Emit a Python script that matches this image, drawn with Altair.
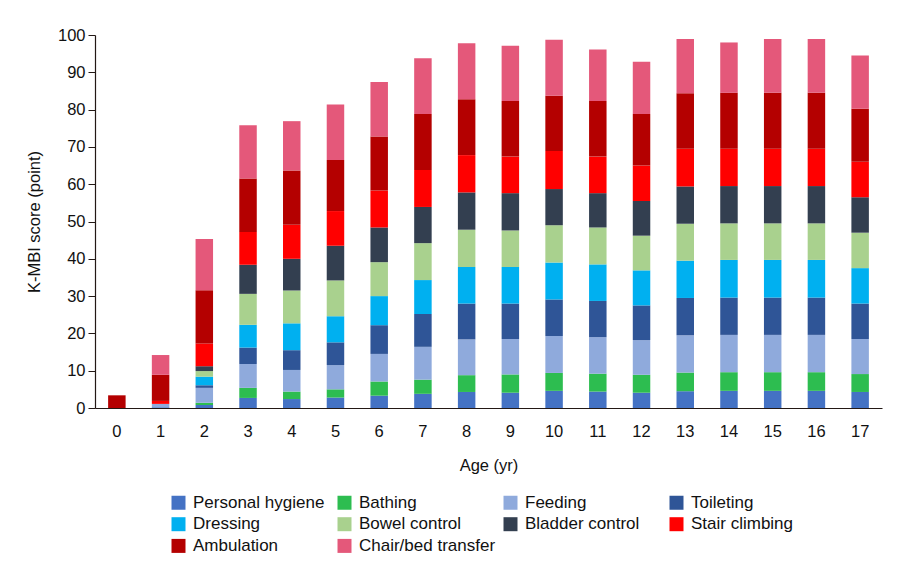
import altair as alt
import pandas as pd

ages = list(range(18))
categories = ["Personal hygiene", "Bathing", "Feeding", "Toileting", "Dressing",
              "Bowel control", "Bladder control", "Stair climbing", "Ambulation",
              "Chair/bed transfer"]
colors = ["#4472C4", "#2DBD50", "#8FAADC", "#2F5597", "#00B0F0",
          "#A9D18E", "#333F50", "#FF0000", "#B40000", "#E4587A"]

personal_hygiene = [0, 0.2, 0.8, 2.7, 2.4, 2.8, 3.3, 3.8, 4.3, 4.1, 4.6, 4.4, 4.1, 4.5, 4.6, 4.6, 4.6, 4.3]
bathing = [0, 0, 0.6, 2.7, 2.0, 2.2, 3.8, 3.8, 4.5, 4.9, 4.8, 4.8, 4.8, 5.0, 5.0, 5.0, 5.0, 4.8]
feeding = [0, 0.9, 4.0, 6.4, 5.8, 6.5, 7.4, 8.8, 9.6, 9.5, 9.9, 9.8, 9.3, 10.0, 10.0, 10.0, 10.0, 9.4]
toileting = [0, 0, 0.7, 4.4, 5.3, 6.1, 7.7, 8.8, 9.6, 9.5, 9.8, 9.7, 9.3, 10.0, 10.0, 10.0, 10.0, 9.5]
dressing = [0, 0, 2.3, 6.1, 7.2, 7.0, 7.8, 9.1, 9.8, 9.8, 9.9, 9.8, 9.4, 10.0, 10.1, 10.1, 10.1, 9.5]
bowel = [0, 0, 1.5, 8.3, 8.8, 9.6, 9.1, 9.9, 10.0, 9.8, 10.0, 9.9, 9.3, 9.9, 9.8, 9.8, 9.8, 9.5]
bladder = [0, 0, 1.3, 7.8, 8.5, 9.3, 9.3, 9.7, 10.0, 10.0, 9.7, 9.2, 9.3, 10.0, 10.0, 10.0, 10.0, 9.5]
stair = [0, 0.8, 6.1, 8.8, 9.1, 9.3, 9.9, 9.9, 10.0, 9.8, 10.2, 9.8, 9.5, 10.1, 10.0, 10.0, 10.0, 9.5]
ambulation = [3.4, 7.0, 14.3, 14.3, 14.6, 13.7, 14.5, 15.0, 15.0, 14.9, 14.8, 14.9, 13.8, 14.9, 15.0, 15.0, 15.0, 14.2]
chair = [0, 5.3, 13.7, 14.3, 13.2, 14.9, 14.6, 15.0, 15.0, 14.8, 15.0, 13.8, 14.0, 14.5, 13.5, 14.4, 14.4, 14.3]

series = [personal_hygiene, bathing, feeding, toileting, dressing,
          bowel, bladder, stair, ambulation, chair]

rows = []
for ci, (cat, vals) in enumerate(zip(categories, series)):
    for a, v in zip(ages, vals):
        rows.append({"age": a, "item": cat, "idx": ci, "score": v})
df = pd.DataFrame(rows)

FONT = "Liberation Sans"

chart = alt.Chart(df).mark_bar().encode(
    x=alt.X("age:O", title="Age (yr)",
            scale=alt.Scale(paddingInner=0.6, paddingOuter=0.3),
            axis=alt.Axis(labelAngle=0, ticks=False, tickSize=0, labelPadding=15,
                          titlePadding=18, domainColor="#231815", domainWidth=1.2)),
    y=alt.Y("score:Q", title="K-MBI score (point)",
            scale=alt.Scale(domain=[0, 100], nice=False),
            axis=alt.Axis(values=list(range(0, 101, 10)), grid=False, tickSize=7,
                          tickColor="#231815", domainColor="#231815", domainWidth=1.2,
                          labelPadding=3, titlePadding=15)),
    color=alt.Color("item:N", scale=alt.Scale(domain=categories, range=colors),
                    legend=alt.Legend(title=None, orient="none", legendX=75, legendY=459,
                                      direction="horizontal",
                                      columns=4, symbolType="square", symbolSize=196,
                                      symbolStrokeWidth=0, labelFontSize=17, labelFont=FONT,
                                      labelColor="#111", labelOffset=6, columnPadding=6,
                                      rowPadding=3.7, gridAlign="all", padding=0)),
    order=alt.Order("idx:Q", sort="ascending"),
).properties(
    width=787, height=373,
    autosize=alt.AutoSizeParams(type="none"),
    padding={"left": 87, "top": 27, "right": 14, "bottom": 150},
).configure_axis(
    labelFont=FONT, titleFont=FONT, labelFontSize=16.5, titleFontSize=16.5,
    labelColor="#111", titleColor="#111", titleFontWeight="normal",
).configure_view(stroke=None)

chart.save("out.html", embed_options={"renderer": "svg", "actions": False})
